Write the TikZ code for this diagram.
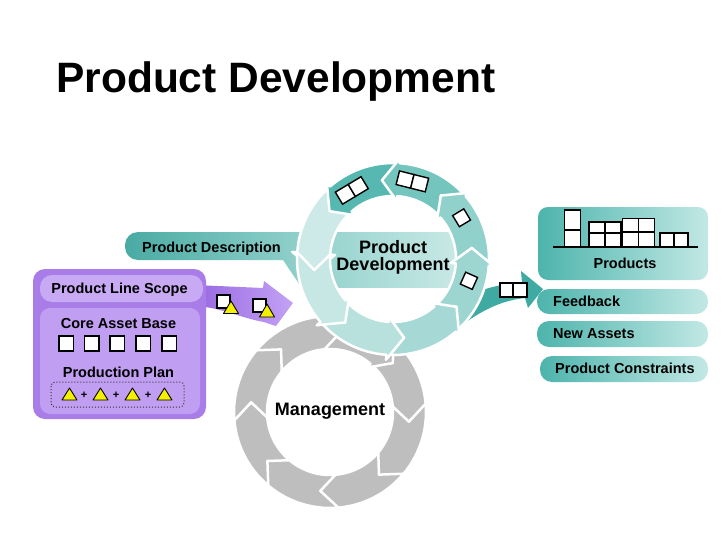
\documentclass[tikz,border=0pt]{standalone}
\usepackage{fontspec}
\setmainfont{Liberation Sans}
\definecolor{tealArr}{HTML}{3FAAA2}
\definecolor{tealL}{HTML}{4DB4AC}
\definecolor{tealR}{HTML}{C2E8E5}
\definecolor{grayR}{HTML}{BEBEBE}
\definecolor{purpA}{HTML}{A87DE8}
\definecolor{purpB}{HTML}{C8A9F4}
\definecolor{purpC}{HTML}{C09EF1}
\definecolor{purpArrL}{HTML}{9868E0}
\definecolor{purpArrR}{HTML}{C3A2F5}
\definecolor{yel}{HTML}{F4F000}
\def\Ro{96}\def\Ri{63}\def\Rmid{79.5}\def\Fl{5}\def\Ext{12}
\newcommand\ringseg[5]{%
  \pgfmathsetmacro\Bt{#3-(#4)*45}%
  \pgfmathsetmacro\Tp{#3+(#4)*\Ext}%
  \pgfmathsetmacro\Nt{\Bt+(#4)*\Ext}%
  \pgfmathsetmacro\Rout{\Ro+\Fl}%
  \pgfmathsetmacro\Rin{\Ri-\Fl}%
  \filldraw[fill=#5, draw=white, line width=2.5pt, line join=round]
    plot[domain=\Bt:#3, samples=16, variable=\t] ({#1+\Ro*cos(\t)},{#2+\Ro*sin(\t)})
    -- ({#1+\Rout*cos(#3)},{#2+\Rout*sin(#3)})
    -- ({#1+\Rmid*cos(\Tp)},{#2+\Rmid*sin(\Tp)})
    -- ({#1+\Rin*cos(#3)},{#2+\Rin*sin(#3)})
    -- plot[domain=#3:\Bt, samples=16, variable=\t] ({#1+\Ri*cos(\t)},{#2+\Ri*sin(\t)})
    -- ({#1+\Rmid*cos(\Nt)},{#2+\Rmid*sin(\Nt)})
    -- cycle;}
\begin{document}
\begin{tikzpicture}[x=1pt,y=-1pt,
  boxst/.style={draw=black, fill=white, line width=1.4pt},
  tri/.style={draw=black, fill=yel, line width=0.9pt, line join=round},
  lbl/.style={font=\fontsize{14.5}{17}\selectfont\bfseries, inner sep=0},
  big/.style={font=\fontsize{18}{18}\selectfont\bfseries, inner sep=0},
  pillT/.style={left color=tealL, right color=tealR, rounded corners=12pt}]
\useasboundingbox[fill=white] (0,0) rectangle (728,546);

% title
\node[anchor=base west, inner sep=0, font=\fontsize{42.5}{50}\selectfont\bfseries] (title) at (56,92) {Product Development};

% gray management ring
\foreach \b in {355,40,85,130,175,220,265,310} {\ringseg{330}{412}{\b}{1}{grayR}}
\node[big, anchor=base] (mgmt) at (330,415) {Management};

% product description band (behind ring)
\path[left color=tealL!95!black, right color=tealL!55!white]
  (310,300) -- (283,260) [rounded corners=13pt] -- (125,260) -- (125,232) -- (330,232) [sharp corners] -- (330,300) -- cycle;
\node[lbl, anchor=base west] (pdesc) at (142,252) {Product Description};

% centre band
\path[left color=tealL!58!white, right color=tealL!30!white] (325,232) rectangle (460,287);

% output arrow (behind ring)
\fill[tealArr] (468,296) .. controls (485,288) and (500,284) .. (522,283) -- (521,271) -- (543,289) -- (528,308) -- (525,298) .. controls (505,300) and (485,308) .. (462,325) -- cycle;

% teal development ring
\ringseg{393}{259}{184}{-1}{tealL!28!white}
\ringseg{393}{259}{229}{-1}{tealL!95!white}
\ringseg{393}{259}{274}{-1}{tealL!78!white}
\ringseg{393}{259}{319}{-1}{tealL!62!white}
\ringseg{393}{259}{4}{-1}{tealL!55!white}
\ringseg{393}{259}{49}{-1}{tealL!50!white}
\ringseg{393}{259}{94}{-1}{tealL!40!white}
\ringseg{393}{259}{139}{-1}{tealL!32!white}

\node[big, anchor=base] (pd1) at (393,253) {Product};
\node[big, anchor=base] (pd2) at (393,270.5) {Development};

% ring icons
\begin{scope}[shift={({393+80*cos(239)},{259+80*sin(239)})}, rotate=31]
  \draw[boxst] (-15,-7) rectangle (0,7); \draw[boxst] (0,-7) rectangle (15,7);
\end{scope}
\begin{scope}[shift={({393+80*cos(284)},{259+80*sin(284)})}, rotate=-14]
  \draw[boxst] (-15,-7) rectangle (0,7); \draw[boxst] (0,-7) rectangle (15,7);
\end{scope}
\begin{scope}[shift={({393+80*cos(329)},{259+80*sin(329)})}, rotate=31]
  \draw[boxst] (-6.5,-6.5) rectangle (6.5,6.5);
\end{scope}
\begin{scope}[shift={({393+79*cos(16)},{259+79*sin(16)})}, rotate=-24]
  \draw[boxst] (-6.5,-6.5) rectangle (6.5,6.5);
\end{scope}
\draw[boxst] (500,283) rectangle (513,297);
\draw[boxst] (513,283) rectangle (527,297);

% purple input arrow
\path[left color=purpArrL, right color=purpArrR]
  (195,285) -- (263,288) -- (264,281) -- (293,303) -- (276,326) -- (264,322)
  .. controls (240,318) and (215,305) .. (195,307) -- cycle;
\draw[boxst, line width=1.2pt] (217,295) rectangle (230,308);
\draw[tri] (231,301) -- (238.5,313.5) -- (223.5,313.5) -- cycle;
\draw[boxst, line width=1.2pt] (253,299) rectangle (266,312);
\draw[tri] (267,304) -- (274.5,317) -- (259.5,317) -- cycle;

% purple panel
\fill[purpA, rounded corners=12pt] (33,269) rectangle (206,419);
\fill[purpB, rounded corners=12pt] (40,275) rectangle (203,302);
\fill[purpC, rounded corners=10pt] (40,308) rectangle (200,414);
\node[lbl, anchor=base] (pls) at (119.5,293) {Product Line Scope};
\node[lbl, anchor=base] (cab) at (118.5,328) {Core Asset Base};
\foreach \x in {59,84.5,110,136,162} {\draw[boxst] (\x,336) rectangle (\x+14.5,351);}
\node[lbl, anchor=base] (pp) at (118.5,377) {Production Plan};
\draw[black!80, dotted, line width=1pt, rounded corners=4pt] (51,382) rectangle (184,407);
\foreach \x in {69.5,100.5,132.5,164.5} {\draw[tri] (\x,388) -- (\x+7.5,400) -- (\x-7.5,400) -- cycle;}
\foreach \x/\n in {84/p1,116/p2,148/p3} {\node[inner sep=0, font=\fontsize{11}{11}\selectfont\bfseries] (\n) at (\x,395) {+};}

% right panels
\path[pillT, rounded corners=10pt] (538,207) rectangle (708,280);
\draw[line width=2pt] (553,247) -- (698,247);
\draw[boxst] (564.5,210) rectangle (580.5,230);
\draw[boxst] (564.5,230) rectangle (580.5,247);
\foreach \x in {589,605} {\draw[boxst] (\x,222) rectangle (\x+16,233); \draw[boxst] (\x,233) rectangle (\x+16,247);}
\foreach \x in {622.5,638.5} {\draw[boxst] (\x,218.5) rectangle (\x+16,232); \draw[boxst] (\x,232) rectangle (\x+16,247);}
\foreach \x in {660,674} {\draw[boxst] (\x,233) rectangle (\x+14,247);}
\node[lbl, anchor=base] (prods) at (625,268) {Products};

\path[pillT] (537,289) rectangle (708,314);
\node[lbl, anchor=base west] (fb) at (553,306) {Feedback};
\path[pillT] (537,321) rectangle (708,347);
\node[lbl, anchor=base west] (na) at (553,338) {New Assets};
\path[pillT] (540,356) rectangle (708,382);
\node[lbl, anchor=base west] (pc) at (555,373) {Product Constraints};
\end{tikzpicture}
\end{document}
